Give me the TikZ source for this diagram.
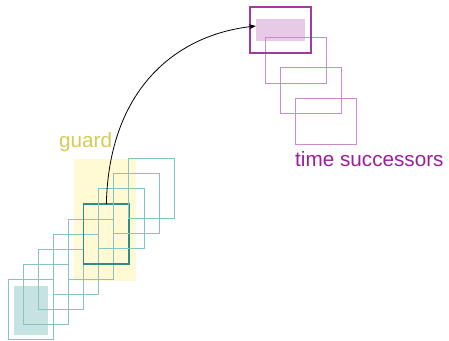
\documentclass[tikz,border=0pt]{standalone}
\usepackage{fontspec}
\setmainfont{Liberation Sans}
\usetikzlibrary{arrows.meta}
\definecolor{tealline}{HTML}{86C4C2}
\definecolor{tealdark}{HTML}{2E8C84}
\definecolor{tealfill}{HTML}{C6E3E2}
\definecolor{guardfill}{HTML}{FFF9D4}
\definecolor{guardtext}{HTML}{D5CB55}
\definecolor{purpline}{HTML}{CD8ACD}
\definecolor{purpdark}{HTML}{A23AA2}
\definecolor{purpfill}{HTML}{E6CAE6}
\definecolor{purptext}{HTML}{9A1E9A}
\begin{document}
\begin{tikzpicture}[x=1pt,y=1pt,
  tbox/.style={draw=tealline,line width=1pt,minimum width=45.5pt,minimum height=60pt,inner sep=0pt,outer sep=0pt,anchor=north west},
  tboxdark/.style={tbox,draw=tealdark,line width=1.4pt},
  pbox/.style={draw=purpline,line width=1pt,minimum width=61pt,minimum height=46pt,inner sep=0pt,outer sep=0pt,anchor=north west},
  pboxdark/.style={pbox,draw=purpdark,line width=1.4pt},
  filled/.style={inner sep=0pt,outer sep=0pt,anchor=north west},
  lbl/.style={font=\fontsize{20.7pt}{24pt}\selectfont,inner sep=0pt,anchor=base west}]
\useasboundingbox (0,0) rectangle (449,340);
% guard region and fills
\node[filled,fill=guardfill,minimum width=62pt,minimum height=122pt] (guard) at (74,181) {};
\node[filled,fill=tealfill,minimum width=34pt,minimum height=49pt] (tf) at (14,54) {};
\node[filled,fill=purpfill,minimum width=49pt,minimum height=22pt] (pf) at (256,321) {};
% teal boxes
\foreach \i in {1,...,9}{
  \pgfmathsetmacro{\xx}{8+15.12*(\i-1)}
  \pgfmathsetmacro{\yy}{340-279.5+15.1*(\i-1)}
  \ifnum\i=6
    \node[tboxdark] (t\i) at (\xx,\yy) {};
  \else
    \node[tbox] (t\i) at (\xx,\yy) {};
  \fi
}
% purple boxes
\foreach \i in {4,3,2}{
  \pgfmathsetmacro{\xx}{250+15.3*(\i-1)}
  \pgfmathsetmacro{\yy}{340-7-30.5*(\i-1)}
  \node[pbox] (p\i) at (\xx,\yy) {};
}
\node[pboxdark] (p1) at (250,333) {};
% labels
\node[lbl,text=guardtext] (gl) at (59,192) {guard};
\node[lbl,text=purptext] (tl) at (295,173) {time successors};
% arrow
\coordinate (tip) at ([yshift=4pt]pf.west);
\draw[line width=0.8pt,-{Stealth[length=7pt,width=5pt]}] (t6.north) .. controls (109,250) and (175,305) .. (tip);
\end{tikzpicture}
\end{document}
